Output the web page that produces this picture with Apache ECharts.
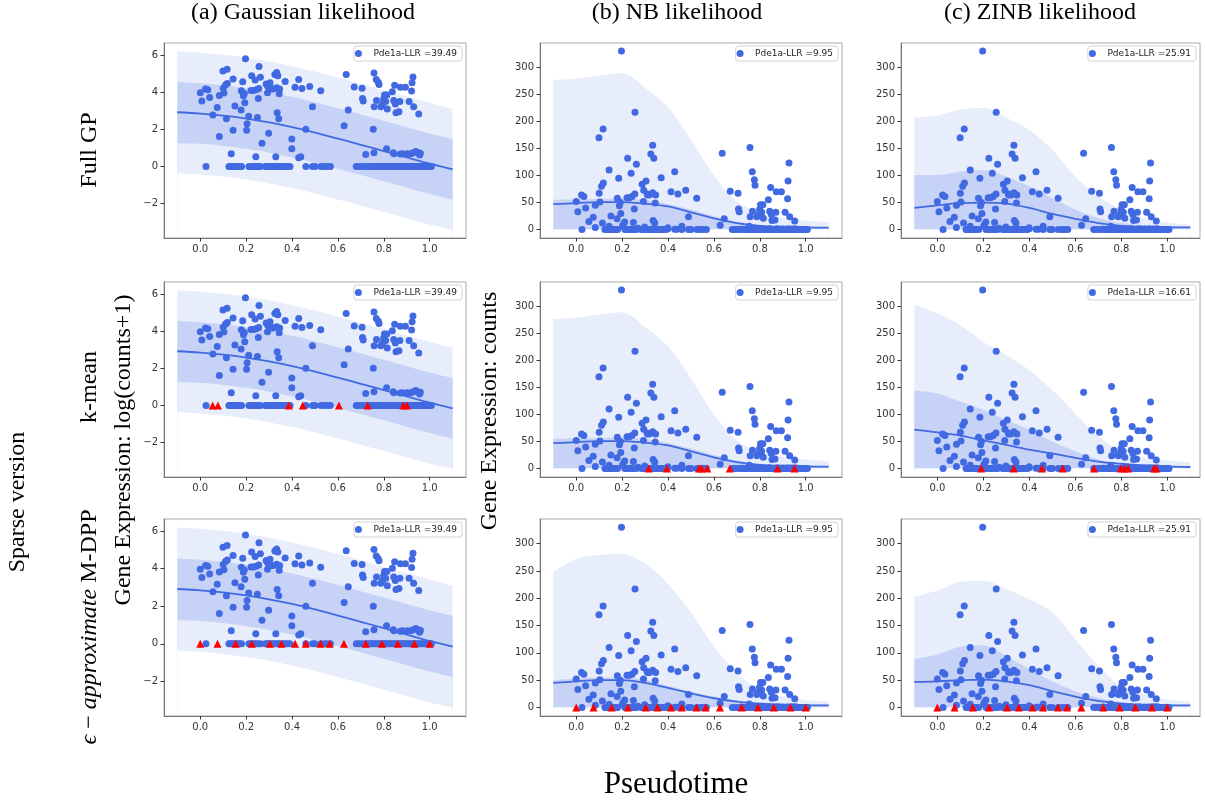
<!DOCTYPE html>
<html>
<head>
<meta charset="utf-8">
<script src="https://cdn.jsdelivr.net/npm/echarts@6.0.0/dist/echarts.min.js"></script>
<style>
  html, body { margin: 0; padding: 0; background: #fff; }
  #chart { width: 1205px; height: 803px; }
</style>
</head>
<body>
<div id="chart"></div>
<script>
// Observed cells: [pseudotime, Pde1a counts]
const cellsExpressed = [
  [0.000, 52], [0.007, 33], [0.023, 64], [0.033, 61], [0.041, 40], [0.055, 15], [0.074, 23],
  [0.083, 45], [0.083, 4], [0.099, 170], [0.103, 51], [0.100, 67], [0.110, 80], [0.114, 12],
  [0.117, 186], [0.118, 86], [0.135, 1], [0.143, 110], [0.143, 6], [0.151, 25], [0.178, 20],
  [0.179, 58], [0.185, 95], [0.188, 44], [0.192, 50], [0.194, 30], [0.197, 330], [0.202, 6],
  [0.204, 9], [0.211, 14], [0.224, 132], [0.221, 59], [0.231, 59], [0.239, 104], [0.243, 61],
  [0.242, 0.7], [0.249, 13], [0.253, 38], [0.255, 66], [0.256, 217], [0.262, 121], [0.269, 2.5],
  [0.287, 84], [0.293, 52], [0.294, 73], [0.298, 5], [0.304, 90], [0.309, 66], [0.311, 64],
  [0.319, 64], [0.325, 140], [0.329, 0.7], [0.333, 156], [0.333, 68], [0.338, 132], [0.335, 17],
  [0.342, 12], [0.344, 49], [0.346, 64], [0.370, 96], [0.399, 1.6], [0.399, 3.4], [0.413, 70],
  [0.429, 107], [0.429, 0.6], [0.438, 0.7], [0.443, 66], [0.460, 6.4], [0.477, 73], [0.489, 24],
  [0.525, 58], [0.627, 8], [0.636, 141], [0.645, 20], [0.671, 71], [0.705, 67], [0.707, 38],
  [0.710, 33], [0.721, 0.9], [0.754, 6.4], [0.757, 152], [0.757, 1.1], [0.758, 24], [0.767, 107],
  [0.768, 34], [0.776, 92], [0.779, 82], [0.787, 24], [0.795, 28], [0.799, 37], [0.803, 46],
  [0.808, 32], [0.812, 1.6], [0.813, 46], [0.815, 21], [0.837, 55], [0.841, 1.1], [0.843, 34],
  [0.844, 1.0], [0.847, 78], [0.850, 28], [0.853, 17], [0.866, 18], [0.870, 32], [0.872, 70],
  [0.872, 0.95], [0.881, 1.0], [0.894, 70], [0.901, 1.0], [0.910, 32], [0.918, 1.0], [0.921, 57],
  [0.923, 90], [0.927, 123], [0.928, 1.1], [0.930, 24], [0.939, 1.25], [0.949, 1.1], [0.952, 16],
  [0.956, 0.85], [0.959, 1.05]
];
// Cells with zero counts (pseudotime only)
const cellsSilent = [
  0.025, 0.125, 0.131, 0.139, 0.147, 0.155, 0.163, 0.171, 0.180, 0.212, 0.221, 0.233, 0.241,
  0.250, 0.262, 0.284, 0.292, 0.299, 0.310, 0.318, 0.326, 0.337, 0.344, 0.352, 0.363, 0.371,
  0.380, 0.391, 0.460, 0.489, 0.500, 0.526, 0.542, 0.553, 0.567, 0.680, 0.691, 0.704, 0.719,
  0.727, 0.737, 0.745, 0.751, 0.761, 0.769, 0.777, 0.783, 0.792, 0.801, 0.807, 0.817, 0.825,
  0.831, 0.841, 0.849, 0.857, 0.863, 0.872, 0.881, 0.887, 0.896, 0.905, 0.911, 0.920, 0.929,
  0.936, 0.944, 0.953, 0.961, 0.968, 0.977, 0.985, 0.993, 1.000, 1.007
];

// Prediction grid for the GP fits
const predTime = [-0.1, 0.0, 0.1, 0.2, 0.3, 0.4, 0.5, 0.6, 0.7, 0.8, 0.9, 1.0, 1.1];

// Gaussian likelihood (log(counts+1) scale)
const gaussMean      = [2.92, 2.85, 2.74, 2.58, 2.37, 2.12, 1.83, 1.50, 1.17, 0.83, 0.49, 0.15, -0.15];
const gaussInnerHigh = [4.55, 4.48, 4.37, 4.21, 4.00, 3.75, 3.46, 3.13, 2.80, 2.46, 2.12, 1.78, 1.48];
const gaussInnerLow  = [1.25, 1.22, 1.11, 0.95, 0.74, 0.49, 0.20, -0.13, -0.46, -0.80, -1.14, -1.48, -1.78];
const gaussOuterHigh = [6.20, 6.13, 6.02, 5.86, 5.65, 5.40, 5.11, 4.78, 4.45, 4.11, 3.77, 3.43, 3.10];
const gaussOuterLow  = [-0.36, -0.43, -0.54, -0.70, -0.91, -1.16, -1.45, -1.78, -2.11, -2.45, -2.79, -3.13, -3.40];

// Lower edge of the count-scale intervals
const countLow = [0, 0, 0, 0, 0, 0, 0, 0, 0, 0, 0, 0, 0];

// NB likelihood: full GP / k-mean, and M-DPP
const nbMean         = [47, 49, 51, 51, 48, 43, 32, 21, 12, 7, 5, 4, 3.5];
const nbInnerHigh    = [55, 56, 57, 58, 55, 47, 37, 25, 15, 9, 7, 5.5, 5];
const nbOuterHigh    = [277, 279, 285, 289, 262, 226, 166, 100, 52, 32, 22, 17, 14];
const nbDppMean      = [45, 48, 50, 50, 45, 36, 26, 17, 11, 7, 5, 4, 4];
const nbDppInnerHigh = [50, 53, 55, 55, 51, 40, 29, 20, 13, 9, 7, 5.5, 5];
const nbDppOuterHigh = [248, 272, 279, 281, 263, 226, 174, 112, 63, 33, 20, 14, 11];

// ZINB likelihood: full GP, k-mean, M-DPP
const zinbMean          = [40, 45, 49, 50, 48, 40, 29, 20, 12, 7, 5, 4, 4];
const zinbInnerHigh     = [101, 101, 107, 110, 98, 80, 58, 37, 21, 12, 8, 6, 5];
const zinbOuterHigh     = [207, 211, 222, 225, 207, 184, 147, 98, 61, 37, 21, 13, 9];
const zinbKMean         = [72, 67, 61, 52, 44, 35, 28, 20, 13, 9, 6, 4, 3];
const zinbKInnerHigh    = [144, 139, 124, 109, 90, 72, 50, 32, 17, 9, 6, 4, 4];
const zinbKOuterHigh    = [303, 287, 265, 234, 210, 182, 145, 102, 60, 32, 20, 15, 12];
const zinbDppMean       = [47, 48, 50, 51, 48, 41, 30, 20, 12, 7, 5, 4, 4];
const zinbDppInnerHigh  = [89, 97, 111, 114, 94, 70, 48, 30, 18, 10, 6, 4, 3];
const zinbDppOuterHigh  = [203, 214, 230, 232, 217, 198, 174, 125, 76, 39, 24, 15, 10];

// Inducing points (pseudotime)
const inducingKMeanGauss = [0.054, 0.077, 0.386, 0.447, 0.604, 0.729, 0.885, 0.901];
const inducingKMeanNB    = [0.316, 0.395, 0.535, 0.546, 0.571, 0.669, 0.877, 0.951];
const inducingKMeanZINB  = [0.191, 0.332, 0.455, 0.545, 0.681, 0.797, 0.814, 0.830, 0.942, 0.952];
const inducingDPP        = [0.000, 0.075, 0.154, 0.225, 0.303, 0.354, 0.413, 0.460, 0.524, 0.564, 0.626, 0.721, 0.792, 0.861, 0.933, 1.000];

// Legend labels
const llrLabels = [
  ['Pde1a-LLR =39.49', 'Pde1a-LLR =9.95', 'Pde1a-LLR =25.91'],
  ['Pde1a-LLR =39.49', 'Pde1a-LLR =9.95', 'Pde1a-LLR =16.61'],
  ['Pde1a-LLR =39.49', 'Pde1a-LLR =9.95', 'Pde1a-LLR =25.91']
];

const xTicks = [0, 0.2, 0.4, 0.6, 0.8, 1.0];
const logTicks = [-2, 0, 2, 4, 6];
const countTicks = [0, 50, 100, 150, 200, 250, 300];

const columnTitles = ['(a) Gaussian likelihood', '(b) NB likelihood', '(c) ZINB likelihood'];
const rowTitles = ['Full GP', 'k-mean'];

// ---- layout ----
const columns = [
  { left: 164, width: 302, xMax: 1.158, log: true },
  { left: 540, width: 302, xMax: 1.158, log: false },
  { left: 901, width: 299, xMax: 1.142, log: false }
];
const rows = [
  { top: 43, height: 195 },
  { top: 282, height: 195 },
  { top: 519, height: 197 }
];

const BLUE = '#4169e1';
const OUTER = '#e8edfb';   // outer interval tint
const INNER = '#c7d3f6';   // inner interval tint
const SERIF = '"Liberation Serif", "Times New Roman", serif';
const SANS = '"DejaVu Sans", sans-serif';

const fits = [
  [
    { mean: gaussMean, inner: [gaussInnerLow, gaussInnerHigh], outer: [gaussOuterLow, gaussOuterHigh], inducing: null },
    { mean: nbMean, inner: [countLow, nbInnerHigh], outer: [countLow, nbOuterHigh], inducing: null },
    { mean: zinbMean, inner: [countLow, zinbInnerHigh], outer: [countLow, zinbOuterHigh], inducing: null }
  ],
  [
    { mean: gaussMean, inner: [gaussInnerLow, gaussInnerHigh], outer: [gaussOuterLow, gaussOuterHigh], inducing: inducingKMeanGauss },
    { mean: nbMean, inner: [countLow, nbInnerHigh], outer: [countLow, nbOuterHigh], inducing: inducingKMeanNB },
    { mean: zinbKMean, inner: [countLow, zinbKInnerHigh], outer: [countLow, zinbKOuterHigh], inducing: inducingKMeanZINB }
  ],
  [
    { mean: gaussMean, inner: [gaussInnerLow, gaussInnerHigh], outer: [gaussOuterLow, gaussOuterHigh], inducing: inducingDPP },
    { mean: nbDppMean, inner: [countLow, nbDppInnerHigh], outer: [countLow, nbDppOuterHigh], inducing: inducingDPP },
    { mean: zinbDppMean, inner: [countLow, zinbDppInnerHigh], outer: [countLow, zinbDppOuterHigh], inducing: inducingDPP }
  ]
];

const grid = [], xAxis = [], yAxis = [], series = [], legend = [];

function minusFmt(v) {
  return v < 0 ? '\u2212' + Math.abs(v) : String(v);
}

// Area under a curve, filled down to the bottom of the axis.
// Painted in order (outer top, inner top, inner bottom, outer bottom) to build the bands.
function fillTo(idx, values, color, z) {
  return {
    type: 'line', xAxisIndex: idx, yAxisIndex: idx, symbol: 'none', smooth: 0.35,
    silent: true, z: z,
    data: predTime.map((t, i) => [t, values[i]]),
    lineStyle: { width: 0, opacity: 0 },
    areaStyle: { color: color, opacity: 1, origin: 'start' }
  };
}

let idx = 0;
for (let r = 0; r < 3; r++) {
  for (let c = 0; c < 3; c++) {
    const col = columns[c], row = rows[r], fit = fits[r][c];
    const toY = col.log ? (v => Math.log1p(v)) : (v => v);

    grid.push({
      left: col.left, top: row.top, width: col.width, height: row.height,
      show: true, borderColor: '#aaaaaa', borderWidth: 1, backgroundColor: 'transparent', z: 6
    });

    xAxis.push({
      gridIndex: idx, type: 'value', min: -0.158, max: col.xMax, z: 7,
      axisLine: { show: true, onZero: false, lineStyle: { color: '#777', width: 1 } },
      axisTick: { show: true, length: 3.5, customValues: xTicks, lineStyle: { color: '#333' } },
      axisLabel: {
        customValues: xTicks, formatter: v => v.toFixed(1), margin: 6,
        fontSize: 10, color: '#333', fontFamily: SANS
      },
      splitLine: { show: false }
    });

    const yT = col.log ? logTicks : countTicks;
    yAxis.push({
      gridIndex: idx, type: 'value', z: 7,
      min: col.log ? -3.85 : -15.5, max: col.log ? 6.65 : 345,
      axisLine: { show: true, onZero: false, lineStyle: { color: '#777', width: 1 } },
      axisTick: { show: true, length: 3.5, customValues: yT, lineStyle: { color: '#333' } },
      axisLabel: {
        customValues: yT, formatter: minusFmt, margin: 6,
        fontSize: 10, color: '#333', fontFamily: SANS
      },
      splitLine: { show: false }
    });

    // credible intervals
    series.push(fillTo(idx, fit.outer[1], OUTER, 1));
    series.push(fillTo(idx, fit.inner[1], INNER, 1));
    series.push(fillTo(idx, fit.inner[0], OUTER, 1));
    series.push(fillTo(idx, fit.outer[0], '#ffffff', 1));

    // posterior mean
    series.push({
      type: 'line', xAxisIndex: idx, yAxisIndex: idx, symbol: 'none', smooth: 0.35, silent: true, z: 2,
      data: predTime.map((t, i) => [t, fit.mean[i]]),
      lineStyle: { color: BLUE, width: 1.8 }
    });

    // observed cells
    const name = llrLabels[r][c];
    const pts = cellsExpressed.map(p => [p[0], toY(p[1])]).concat(cellsSilent.map(t => [t, 0]));
    series.push({
      type: 'scatter', name: name, xAxisIndex: idx, yAxisIndex: idx, z: 3,
      symbol: 'circle', symbolSize: 7, data: pts,
      itemStyle: { color: BLUE, opacity: 1 }
    });

    // inducing points
    if (fit.inducing) {
      series.push({
        type: 'scatter', xAxisIndex: idx, yAxisIndex: idx, z: 4,
        symbol: 'triangle', symbolSize: 8,
        data: fit.inducing.map(t => [t, 0]),
        itemStyle: { color: '#ff0000', opacity: 1 }
      });
    }

    legend.push({
      data: [{ name: name, icon: 'circle' }],
      right: 1205 - (col.left + col.width) + 4, top: row.top + 3,
      orient: 'horizontal', selectedMode: false,
      itemWidth: 20, itemHeight: 7, padding: [3, 5, 3, 1],
      borderColor: '#d4d4d4', borderWidth: 1, borderRadius: 3, backgroundColor: '#fff',
      textStyle: { fontSize: 9, color: '#222', fontFamily: SANS }
    });

    idx++;
  }
}

function label(text, x, y, size, rotation, extra) {
  return {
    type: 'text', x: x, y: y, rotation: rotation || 0, silent: true, z: 10,
    style: Object.assign({
      text: text, fontSize: size, fontFamily: SERIF, fill: '#000',
      align: 'center', verticalAlign: 'middle',
      textAlign: 'center', textVerticalAlign: 'middle'
    }, extra || {})
  };
}

const V = Math.PI / 2;
const graphic = [
  label(columnTitles[0], 303, 13, 24),
  label(columnTitles[1], 677, 13, 24),
  label(columnTitles[2], 1040, 13, 24),
  label(rowTitles[0], 90, 150, 24, V),
  label(rowTitles[1], 90, 387, 24, V),
  label('{i|\u03f5}{n| \u2212 }{i|approximate}{n| M-DPP}', 90, 627, 24, V, {
    rich: {
      n: { fontSize: 24, fontFamily: SERIF, fill: '#000' },
      i: { fontSize: 24, fontFamily: SERIF, fontStyle: 'italic', fill: '#000' }
    }
  }),
  label('Sparse version', 18, 502, 24, V),
  label('Gene Expression: log(counts+1)', 124, 450, 24, V),
  label('Gene Expression: counts', 490, 411, 24, V),
  label('Pseudotime', 676, 785, 31)
];

const chart = echarts.init(document.getElementById('chart'), null, { renderer: 'canvas' });
chart.setOption({
  animation: false,
  backgroundColor: '#ffffff',
  grid, xAxis, yAxis, series, legend, graphic
});
</script>
</body>
</html>
